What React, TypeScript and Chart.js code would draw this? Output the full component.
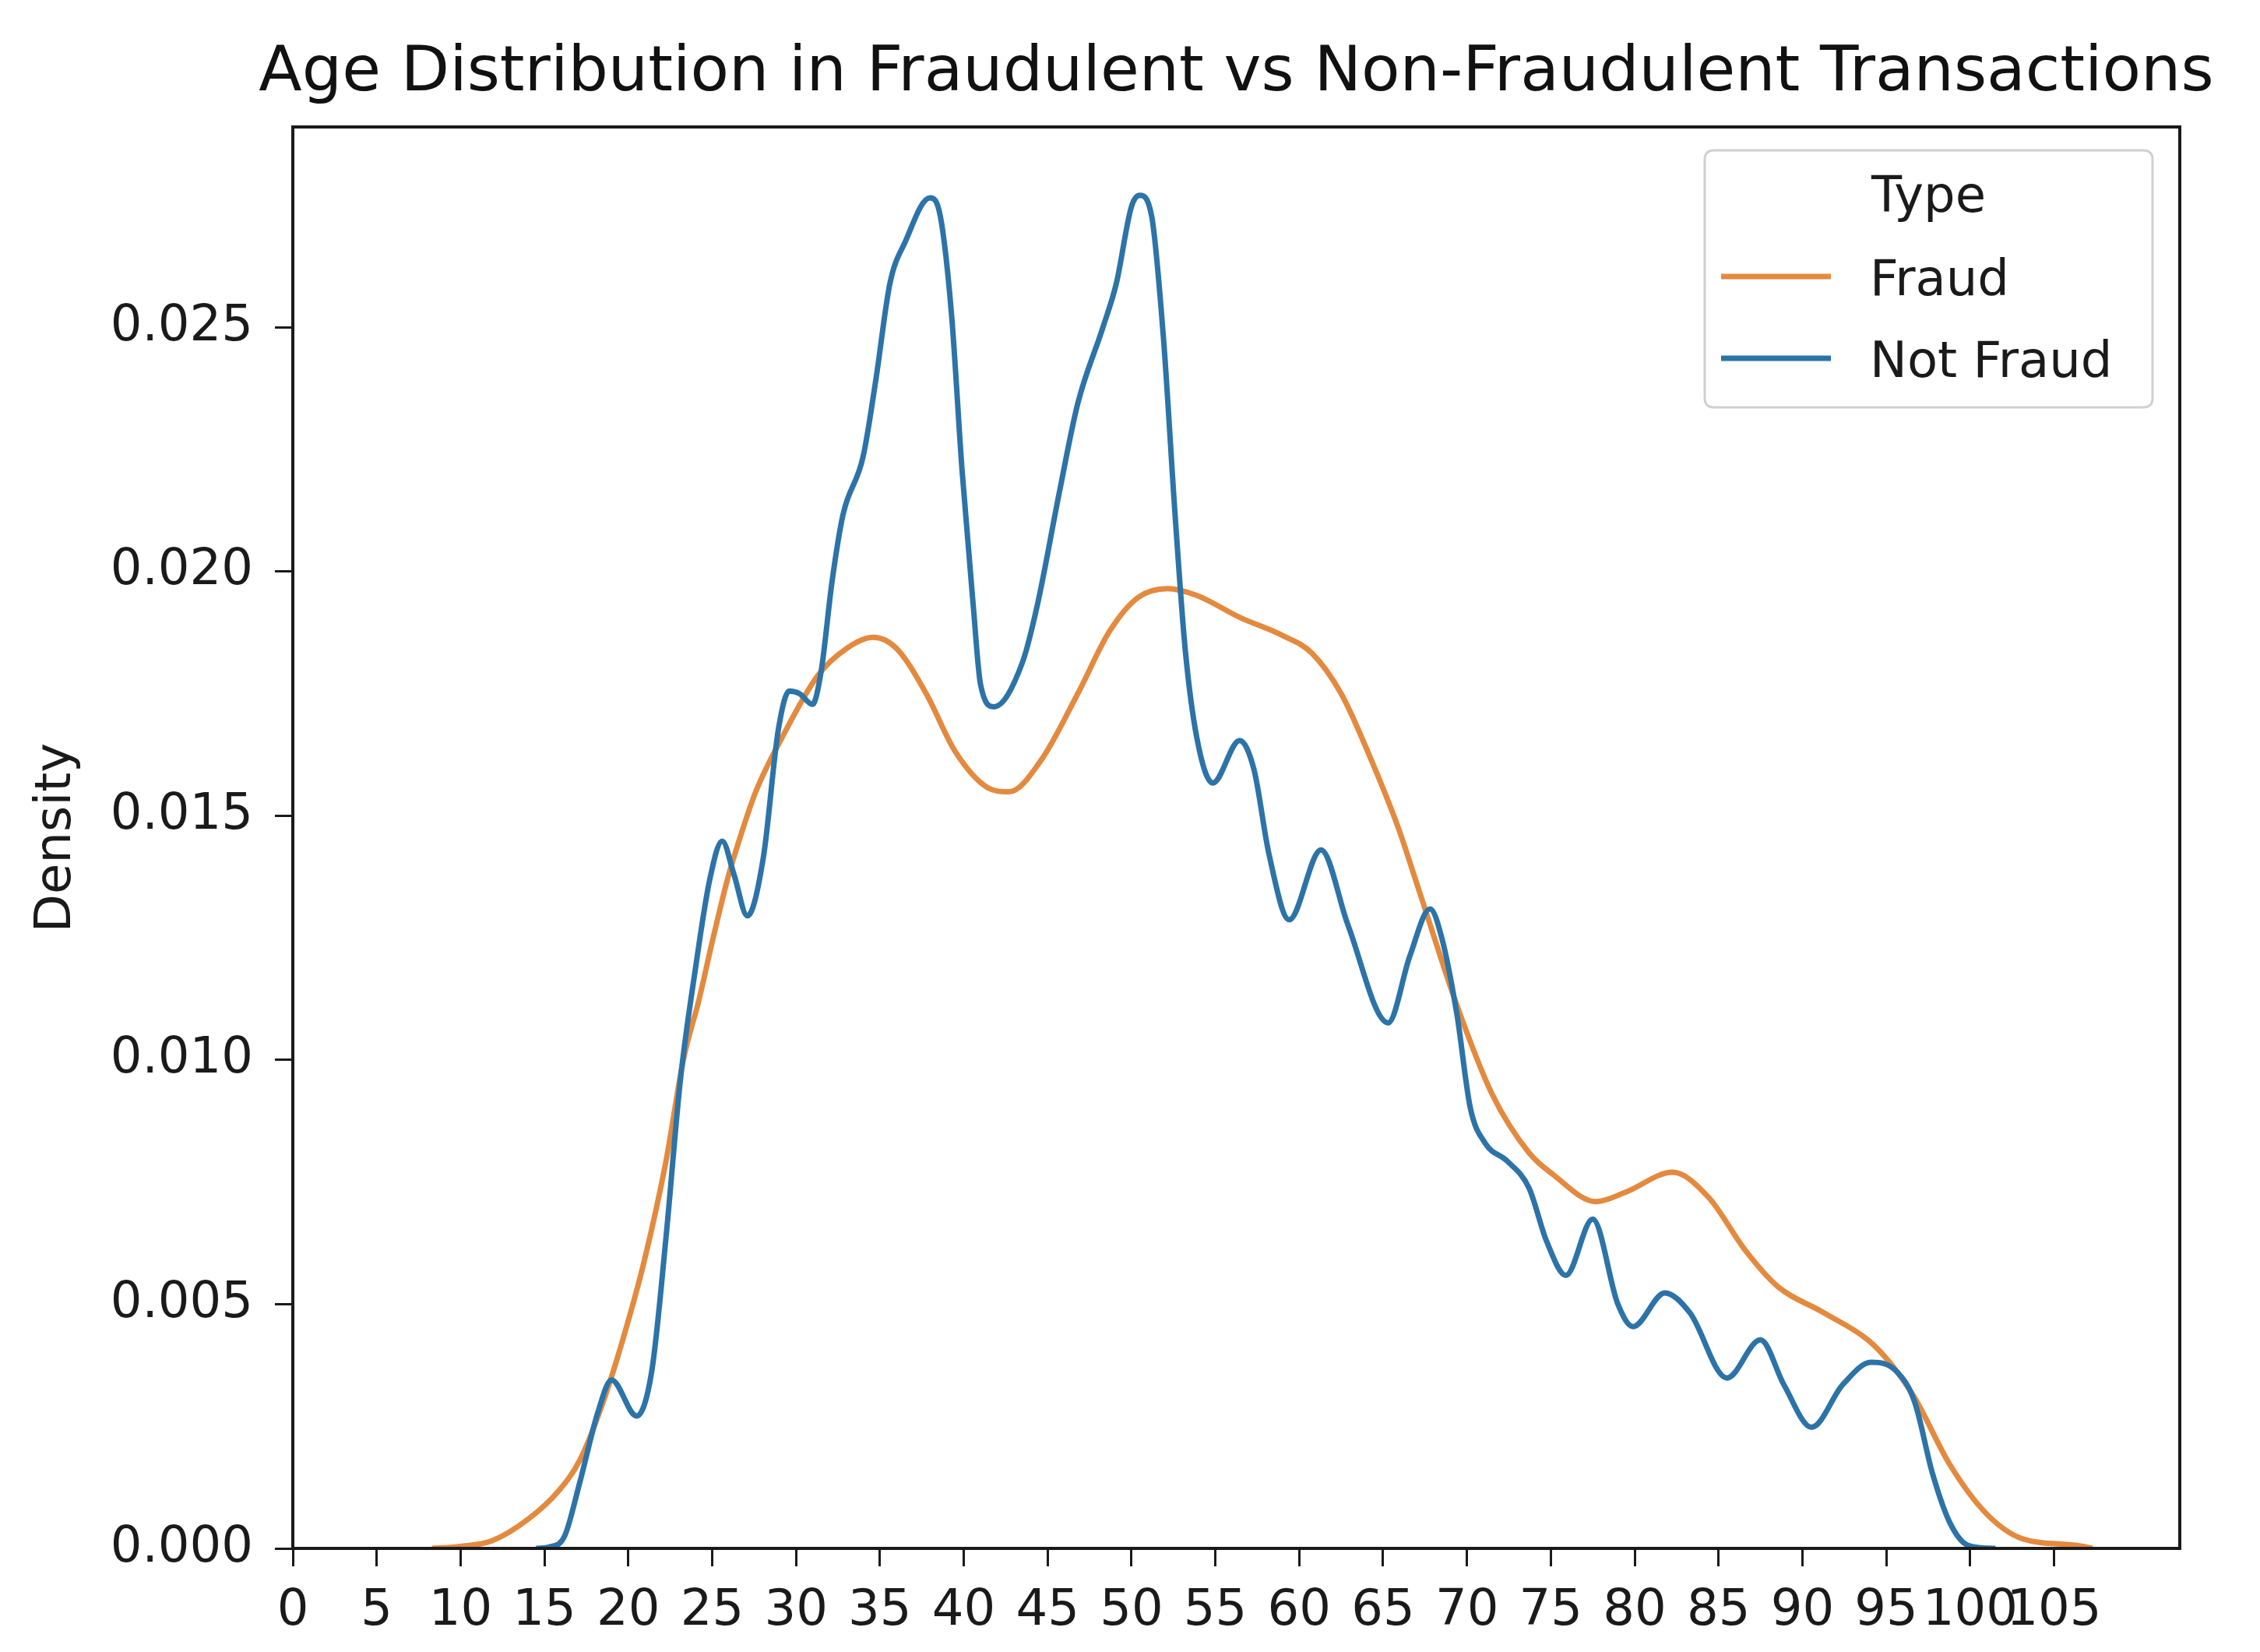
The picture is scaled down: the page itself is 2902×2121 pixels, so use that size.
import React, { useEffect, useRef } from 'react';
import { Chart, registerables } from 'chart.js';

Chart.register(...registerables);

const chartTitle = 'Age Distribution in Fraudulent vs Non-Fraudulent Transactions';
const yAxisTitle = 'Density';
const legendTitle = 'Type';
const seriesNames = ['Fraud', 'Not Fraud'];
const seriesColors = ['#e38a3f', '#2c73a8'];

const fraudAge = [
  8.3, 10.0, 11.9, 14.07, 15.8, 17.1, 18.4, 19.67, 20.97, 22.25, 23.3, 24.2, 25.06, 25.9, 26.35,
  27.6, 29.15, 31.3, 33.0, 34.6, 36.0, 37.76, 39.5, 41.4, 42.7, 44.6, 46.8, 48.7, 50.4, 52.15,
  53.9, 56.45, 59.0, 60.75, 62.5, 64.2, 65.9, 67.2, 69.4, 71.5, 73.7, 75.15, 77.7, 79.45, 82.26,
  84.4, 86.6, 88.5, 91.3, 93.9, 95.2, 96.7, 98.8, 101.0, 103.1, 106.4, 107.3,
];
const fraudDensity = [
  0, 0.00004, 0.00016, 0.00061, 0.00116, 0.0018, 0.0029, 0.00427, 0.00591, 0.00793, 0.01003, 0.01121, 0.0125, 0.01368, 0.01421,
  0.01549, 0.01659, 0.01787, 0.01842, 0.01865, 0.01842, 0.0175, 0.01631, 0.01558, 0.01549, 0.01613, 0.0175, 0.01878, 0.01947, 0.01965,
  0.01951, 0.01906, 0.01869, 0.01833, 0.0175, 0.01622, 0.01476, 0.01341, 0.01112, 0.0093, 0.0081, 0.00765, 0.0071, 0.00729, 0.0077,
  0.00719, 0.0061, 0.00537, 0.00482, 0.00427, 0.00381, 0.00308, 0.00171, 0.0007, 0.0002, 0.00006, 0,
];

const notFraudAge = [
  14.5, 15.3, 16.2, 17.1, 18.2, 19.0, 20.5, 21.4, 22.25, 23.1, 24.0, 24.85, 25.6, 26.3, 27.1,
  28.05, 28.95, 29.6, 30.2, 30.98, 31.5, 32.15, 32.8, 34.0, 34.75, 35.6, 36.5, 37.98, 38.6, 39.27,
  39.9, 40.56, 41.0, 41.8, 43.5, 44.4, 45.7, 46.8, 48.3, 49.1, 50.0, 50.5, 51.2, 51.9, 52.6,
  53.2, 53.9, 54.85, 56.45, 57.3, 58.2, 59.4, 61.3, 62.9, 65.3, 66.6, 67.8, 68.5, 69.4, 70.2,
  71.1, 72.4, 73.7, 74.76, 75.9, 77.5, 79.0, 79.9, 81.8, 83.3, 85.5, 87.5, 88.9, 90.55, 92.4,
  94.1, 95.6, 96.7, 97.76, 98.8, 99.9, 101.5,
];
const notFraudDensity = [
  0, 0.00003, 0.00025, 0.00134, 0.0028, 0.00345, 0.00271, 0.00363, 0.00637, 0.00957, 0.01186, 0.01368, 0.01448, 0.0138, 0.01295,
  0.01414, 0.01677, 0.01755, 0.0175, 0.01728, 0.01796, 0.0198, 0.02116, 0.02235, 0.0239, 0.0259, 0.02674, 0.02765, 0.02728, 0.02527,
  0.02207, 0.01933, 0.01769, 0.01723, 0.01814, 0.01933, 0.02162, 0.02344, 0.025, 0.0259, 0.02747, 0.0277, 0.02728, 0.02481, 0.02116,
  0.01842, 0.01659, 0.01567, 0.01654, 0.01595, 0.01421, 0.01287, 0.0143, 0.01277, 0.01076, 0.01213, 0.01309, 0.0125, 0.01094, 0.00902,
  0.00829, 0.00793, 0.00738, 0.00628, 0.00559, 0.00674, 0.005, 0.00454, 0.00523, 0.00482, 0.00349, 0.00427, 0.00335, 0.00248, 0.00335,
  0.00381, 0.00363, 0.00299, 0.00153, 0.00052, 0.00006, 0,
];

const xTickValues = [0, 5, 10, 15, 20, 25, 30, 35, 40, 45, 50, 55, 60, 65, 70, 75, 80, 85, 90, 95, 100, 105];
const yTickValues = [0, 0.005, 0.01, 0.015, 0.02, 0.025];
const xRange = [0, 112.5];
const yRange = [0, 0.0291];

const FONT = '"DejaVu Sans", "Liberation Sans", sans-serif';

const overlayPlugin = {
  id: 'overlay',
  afterDatasetsDraw(chart: any) {
    const { ctx, chartArea: a } = chart;
    ctx.save();
    // axes frame
    ctx.strokeStyle = '#1a1a1a';
    ctx.lineWidth = 4;
    ctx.strokeRect(a.left, a.top, a.right - a.left, a.bottom - a.top);

    // title
    ctx.fillStyle = '#111111';
    ctx.font = `81px ${FONT}`;
    ctx.textAlign = 'center';
    ctx.textBaseline = 'alphabetic';
    ctx.fillText(chartTitle, (a.left + a.right) / 2, a.top - 47);

    // legend box
    const bx = a.right - 610;
    const by = a.top + 30;
    const bw = 575;
    const bh = 330;
    const r = 12;
    ctx.beginPath();
    ctx.moveTo(bx + r, by);
    ctx.lineTo(bx + bw - r, by);
    ctx.quadraticCurveTo(bx + bw, by, bx + bw, by + r);
    ctx.lineTo(bx + bw, by + bh - r);
    ctx.quadraticCurveTo(bx + bw, by + bh, bx + bw - r, by + bh);
    ctx.lineTo(bx + r, by + bh);
    ctx.quadraticCurveTo(bx, by + bh, bx, by + bh - r);
    ctx.lineTo(bx, by + r);
    ctx.quadraticCurveTo(bx, by, bx + r, by);
    ctx.closePath();
    ctx.fillStyle = 'rgba(255,255,255,0.85)';
    ctx.fill();
    ctx.strokeStyle = '#d0d0d0';
    ctx.lineWidth = 3;
    ctx.stroke();

    ctx.fillStyle = '#1a1a1a';
    ctx.font = `64px ${FONT}`;
    ctx.textAlign = 'center';
    ctx.fillText(legendTitle, bx + bw / 2, by + 79);

    const rows = [
      { name: seriesNames[0], color: seriesColors[0], y: by + 162 },
      { name: seriesNames[1], color: seriesColors[1], y: by + 267 },
    ];
    ctx.textAlign = 'left';
    rows.forEach((row) => {
      ctx.strokeStyle = row.color;
      ctx.lineWidth = 7;
      ctx.beginPath();
      ctx.moveTo(bx + 21, row.y);
      ctx.lineTo(bx + 162, row.y);
      ctx.stroke();
      ctx.fillStyle = '#1a1a1a';
      ctx.fillText(row.name, bx + 212, row.y + 24);
    });
    ctx.restore();
  },
};

export default function App() {
  const canvasRef = useRef<HTMLCanvasElement | null>(null);

  useEffect(() => {
    const canvas = canvasRef.current;
    if (!canvas) return;
    const chart = new Chart(canvas, {
      type: 'line',
      data: {
        datasets: [
          {
            label: seriesNames[1],
            data: notFraudAge.map((x, i) => ({ x, y: notFraudDensity[i] })),
            borderColor: seriesColors[1],
            borderWidth: 7,
            pointRadius: 0,
            fill: false,
            cubicInterpolationMode: 'monotone',
          },
          {
            label: seriesNames[0],
            data: fraudAge.map((x, i) => ({ x, y: fraudDensity[i] })),
            borderColor: seriesColors[0],
            borderWidth: 7,
            pointRadius: 0,
            fill: false,
            cubicInterpolationMode: 'monotone',
          },
        ],
      },
      options: {
        animation: false,
        responsive: false,
        devicePixelRatio: 1,
        layout: { padding: { top: 163, right: 103, bottom: 0, left: 0 } },
        plugins: {
          legend: { display: false },
          title: { display: false },
          tooltip: { enabled: false },
        },
        scales: {
          x: {
            type: 'linear',
            min: xRange[0],
            max: xRange[1],
            afterBuildTicks: (s: any) => {
              s.ticks = xTickValues.map((v) => ({ value: v }));
            },
            afterFit: (s: any) => {
              s.height = 133;
            },
            border: { display: false },
            grid: {
              drawOnChartArea: false,
              drawTicks: true,
              tickLength: 23,
              color: '#1a1a1a',
              lineWidth: 3,
            },
            ticks: {
              autoSkip: false,
              maxRotation: 0,
              minRotation: 0,
              padding: 20,
              color: '#1a1a1a',
              font: { family: FONT, size: 64 },
              callback: (v: any) => String(v),
            },
          },
          y: {
            type: 'linear',
            min: yRange[0],
            max: yRange[1],
            afterBuildTicks: (s: any) => {
              s.ticks = yTickValues.map((v) => ({ value: v }));
            },
            afterFit: (s: any) => {
              s.width = 376;
            },
            border: { display: false },
            grid: {
              drawOnChartArea: false,
              drawTicks: true,
              tickLength: 23,
              color: '#1a1a1a',
              lineWidth: 3,
            },
            ticks: {
              padding: 28,
              color: '#1a1a1a',
              font: { family: FONT, size: 64 },
              callback: (v: any) => Number(v).toFixed(3),
            },
            title: {
              display: true,
              text: yAxisTitle,
              color: '#1a1a1a',
              font: { family: FONT, size: 64 },
              padding: { top: 35, bottom: 0 },
            },
          },
        },
      },
      plugins: [overlayPlugin],
    } as any);
    return () => chart.destroy();
  }, []);

  return (
    <div style={{ position: 'absolute', left: 0, top: 0, width: 2902, height: 2121, background: '#ffffff' }}>
      <canvas ref={canvasRef} width={2902} height={2121} />
    </div>
  );
}
